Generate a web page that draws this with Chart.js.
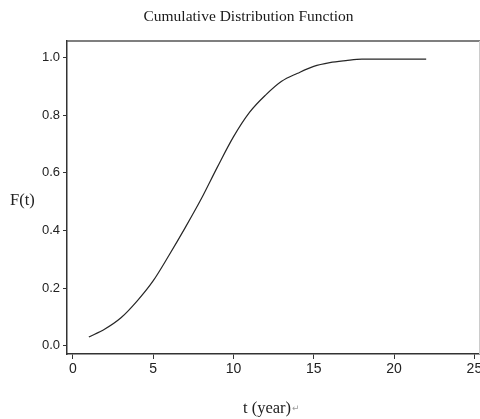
<!DOCTYPE html>
<html>
<head>
<meta charset="utf-8">
<script src="https://cdn.jsdelivr.net/npm/chart.js@4.4.1/dist/chart.umd.min.js"></script>
<style>
  html, body { margin: 0; padding: 0; background: #ffffff; }
  #wrap { width: 480px; height: 419px; }
</style>
</head>
<body>
<div id="wrap"><canvas id="c" width="480" height="419"></canvas></div>
<script>
// ---- data ----
const tValues = [1, 2, 3, 4, 5, 6, 7, 8, 9, 10, 11, 12, 13, 14, 15, 16, 17, 18, 19, 20, 21, 22];
const fValues = [0.030, 0.058, 0.097, 0.155, 0.225, 0.315, 0.410, 0.510, 0.620, 0.725, 0.810, 0.870,
                 0.918, 0.946, 0.970, 0.983, 0.990, 0.995, 0.995, 0.995, 0.995, 0.995];
const xTickValues = [0, 5, 10, 15, 20, 25];
const xTickLabels = ['0', '5', '10', '15', '20', '25'];
const yTickValues = [0, 0.2, 0.4, 0.6, 0.8, 1.0];
const yTickLabels = ['0.0', '0.2', '0.4', '0.6', '0.8', '1.0'];
const chartTitle = 'Cumulative Distribution Function';
const xTitle = 't (year)';
const xTitleMark = '\u21B5';
const yTitle = 'F(t)';

const points = tValues.map((t, i) => ({ x: t, y: fValues[i] }));

const framePlugin = {
  id: 'frame',
  afterDraw(chart) {
    const { ctx, chartArea } = chart;
    ctx.save();
    // top border
    ctx.strokeStyle = '#555555';
    ctx.lineWidth = 1.5;
    ctx.beginPath();
    ctx.moveTo(chartArea.left, chartArea.top);
    ctx.lineTo(chartArea.right, chartArea.top);
    ctx.stroke();
    // right border (light)
    ctx.strokeStyle = '#cccccc';
    ctx.lineWidth = 1;
    ctx.beginPath();
    ctx.moveTo(chartArea.right - 0.5, chartArea.top);
    ctx.lineTo(chartArea.right - 0.5, chartArea.bottom);
    ctx.stroke();

    // y-axis title (horizontal)
    ctx.fillStyle = '#222222';
    ctx.font = '16.5px "Liberation Serif"';
    ctx.textAlign = 'left';
    ctx.textBaseline = 'alphabetic';
    ctx.fillText(yTitle, 10, 205);

    // x-axis title
    ctx.font = '16.5px "Liberation Serif"';
    ctx.fillText(xTitle, 243, 413);
    const w = ctx.measureText(xTitle).width;
    ctx.fillStyle = '#9a9a9a';
    ctx.font = '9px "DejaVu Sans"';
    ctx.fillText(xTitleMark, 243 + w + 1, 411);
    ctx.restore();
  }
};

new Chart(document.getElementById('c'), {
  type: 'line',
  data: {
    datasets: [{
      data: points,
      borderColor: '#262626',
      borderWidth: 1.2,
      pointRadius: 0,
      cubicInterpolationMode: 'monotone',
      fill: false
    }]
  },
  options: {
    responsive: false,
    animation: false,
    devicePixelRatio: 1,
    layout: { padding: { left: 17, right: 0, top: 0, bottom: 0 } },
    plugins: {
      legend: { display: false },
      tooltip: { enabled: false },
      title: {
        display: true,
        text: chartTitle,
        color: '#1a1a1a',
        font: { family: '"Liberation Serif"', size: 15.5, weight: 'normal' },
        padding: { top: 8, bottom: 14.4 }
      }
    },
    scales: {
      x: {
        type: 'linear',
        min: -0.36,
        max: 25.35,
        afterBuildTicks(scale) { scale.ticks = xTickValues.map(v => ({ value: v })); },
        afterFit(scale) { scale.height = 65; scale.paddingLeft = 0; scale.paddingRight = 0; },
        ticks: {
          callback: (v, i) => xTickLabels[i],
          color: '#222222',
          font: { family: '"Liberation Sans"', size: 14 },
          padding: 2,
          maxRotation: 0,
          autoSkip: false
        },
        grid: { drawOnChartArea: false, drawTicks: true, tickLength: 5, color: '#333333', lineWidth: 1 },
        border: { display: true, color: '#333333', width: 1.5 },
        title: { display: false }
      },
      y: {
        type: 'linear',
        min: -0.0288,
        max: 1.058,
        afterBuildTicks(scale) { scale.ticks = yTickValues.map(v => ({ value: v })); },
        afterFit(scale) { scale.width = 50; scale.paddingTop = 0; scale.paddingBottom = 0; },
        ticks: {
          callback: (v, i) => yTickLabels[i],
          color: '#222222',
          font: { family: '"Liberation Sans"', size: 13 },
          padding: 3,
          autoSkip: false
        },
        grid: { drawOnChartArea: false, drawTicks: true, tickLength: 4, color: '#333333', lineWidth: 1 },
        border: { display: true, color: '#333333', width: 1.5 },
        title: { display: false }
      }
    }
  },
  plugins: [framePlugin]
});
</script>
</body>
</html>
